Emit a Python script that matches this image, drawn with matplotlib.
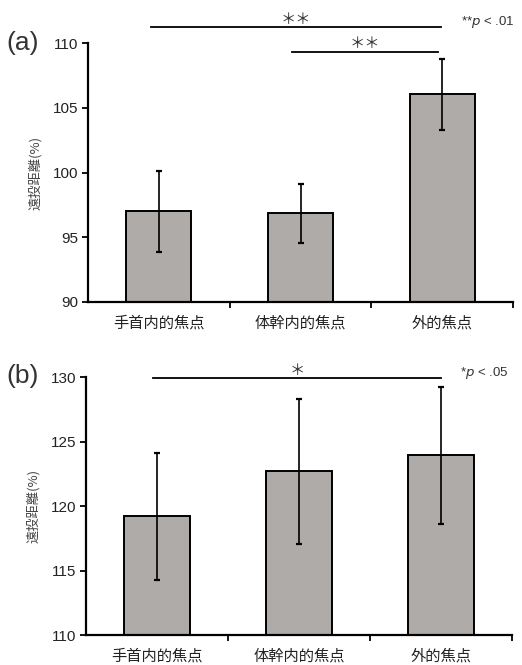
import matplotlib
matplotlib.use("Agg")
import matplotlib.pyplot as plt
import numpy as np

plt.rcParams['font.family'] = ['Liberation Sans', 'Noto Sans CJK JP', 'DejaVu Sans']

categories = ["手首内的焦点", "体幹内的焦点", "外的焦点"]

# panel (a)
means_a = [97.0, 96.85, 106.05]
errs_a = [3.15, 2.3, 2.75]
yticks_a = [90, 95, 100, 105, 110]

# panel (b)
means_b = [119.2, 122.7, 123.95]
errs_b = [4.95, 5.6, 5.3]
yticks_b = [110, 115, 120, 125, 130]

BAR_COLOR = "#afaba9"
JP = ['Noto Sans CJK JP', 'DejaVu Sans']

fig = plt.figure(figsize=(5.22, 6.65), dpi=100)
ax_a = fig.add_axes([0.1686, 0.5459, 0.8144, 0.3894])
ax_b = fig.add_axes([0.1648, 0.0451, 0.8162, 0.3875])


def draw_panel(ax, means, errs, yticks):
    x = np.arange(len(categories))
    ax.bar(x, [m - yticks[0] for m in means], bottom=yticks[0], width=0.46,
           color=BAR_COLOR, edgecolor="black", linewidth=1.4, zorder=2)
    ax.errorbar(x, means, yerr=errs, fmt="none", ecolor="black",
                elinewidth=1.2, capsize=2.5, capthick=1.6, zorder=3)
    ax.set_xlim(-0.5, 2.5)
    ax.set_ylim(yticks[0], yticks[-1])
    ax.set_yticks(yticks)
    ax.set_yticklabels([str(t) for t in yticks], fontsize=11, color="#222222")
    ax.set_xticks(x)
    ax.set_xticklabels(categories, fontsize=11, family=JP, color="#222222")
    ax.set_xticks([0.5, 1.5, 2.5], minor=True)
    ax.tick_params(axis="x", which="major", length=0, pad=9)
    ax.tick_params(axis="x", which="minor", length=4, width=1.3, direction="out")
    ax.tick_params(axis="y", length=4, width=1.3, direction="out", pad=3)
    for s in ["top", "right"]:
        ax.spines[s].set_visible(False)
    for s in ["left", "bottom"]:
        ax.spines[s].set_linewidth(1.6)
    ax.set_ylabel("遠投距離(%)", family=JP, fontsize=9.5, color="#444444", labelpad=8)


def sig_line(ax, x0, x1, y, label, dy):
    ax.plot([x0, x1], [y, y], color="black", linewidth=1.3, clip_on=False)
    ax.text((x0 + x1) / 2, y + dy, label, ha="center", va="center",
            fontsize=11, family=JP, color="#333333", clip_on=False)


draw_panel(ax_a, means_a, errs_a, yticks_a)
draw_panel(ax_b, means_b, errs_b, yticks_b)

sig_line(ax_a, -0.055, 1.99, 111.2, "＊＊", 0.6)
sig_line(ax_a, 0.94, 1.97, 109.3, "＊＊", 0.7)
ax_a.text(2.13, 111.6, "**$p$ < .01", fontsize=9.5, ha="left", va="center",
          clip_on=False, color="#333333")

sig_line(ax_b, -0.03, 2.0, 129.95, "＊", 0.6)
ax_b.text(2.13, 130.3, "*$p$ < .05", fontsize=9.5, ha="left", va="center",
          clip_on=False, color="#333333")

fig.text(0.012, 0.935, "(a)", fontsize=19, va="center", ha="left", color="#333333")
fig.text(0.012, 0.435, "(b)", fontsize=19, va="center", ha="left", color="#333333")

fig.savefig("out.png", dpi=100)
